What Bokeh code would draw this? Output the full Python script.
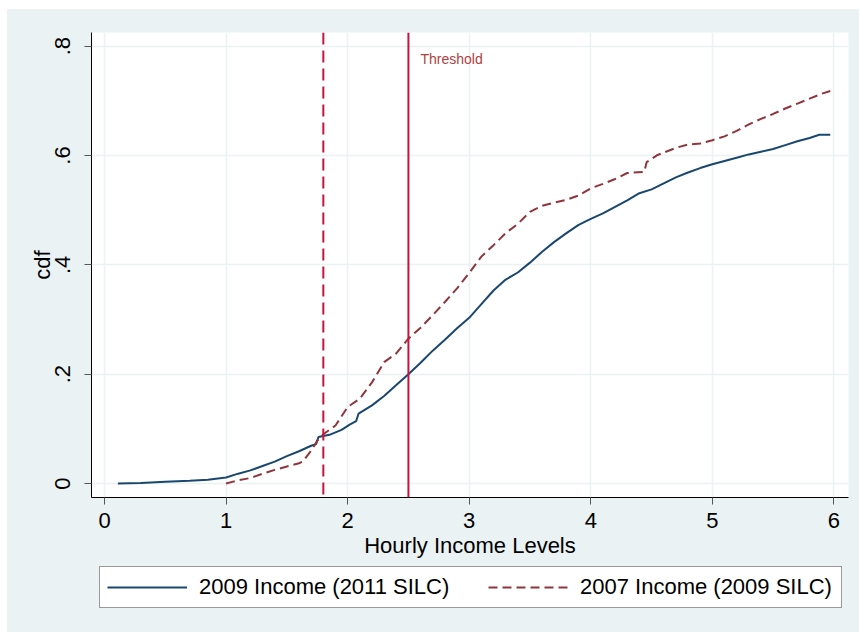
from bokeh.plotting import figure
from bokeh.layouts import column
from bokeh.models import (Range1d, FixedTicker, Span, Label, Legend, LegendItem)
from bokeh.embed import file_html
from bokeh.resources import INLINE

# ---- data ----
blue_x = [0.11, 0.3, 0.5, 0.7, 0.85, 1.0, 1.1, 1.2, 1.3, 1.4, 1.5, 1.6, 1.7, 1.74, 1.76,
          1.85, 1.95, 2.02, 2.07, 2.09, 2.2, 2.3, 2.4, 2.5, 2.6, 2.7, 2.8, 2.9, 3.0, 3.1,
          3.2, 3.3, 3.4, 3.5, 3.6, 3.7, 3.8, 3.9, 4.0, 4.1, 4.2, 4.3, 4.4, 4.5, 4.6, 4.7,
          4.8, 4.9, 5.0, 5.1, 5.2, 5.3, 5.4, 5.5, 5.6, 5.7, 5.8, 5.88, 5.97]
blue_y = [0.0, 0.001, 0.003, 0.005, 0.007, 0.011, 0.018, 0.024, 0.032, 0.040, 0.050, 0.059,
          0.069, 0.072, 0.085, 0.089, 0.098, 0.108, 0.114, 0.128, 0.143, 0.160, 0.180, 0.200,
          0.221, 0.243, 0.263, 0.284, 0.303, 0.328, 0.353, 0.373, 0.386, 0.404, 0.424, 0.442,
          0.458, 0.473, 0.484, 0.494, 0.506, 0.518, 0.531, 0.538, 0.549, 0.560, 0.569, 0.577,
          0.584, 0.590, 0.596, 0.602, 0.607, 0.612, 0.619, 0.626, 0.632, 0.638, 0.638]

red_x = [1.0, 1.05, 1.1, 1.2, 1.3, 1.4, 1.5, 1.6, 1.63, 1.7, 1.75, 1.8, 1.9, 2.0, 2.1, 2.2,
         2.3, 2.4, 2.5, 2.6, 2.7, 2.8, 2.9, 3.0, 3.1, 3.2, 3.3, 3.4, 3.5, 3.6, 3.7, 3.8, 3.9,
         4.0, 4.1, 4.2, 4.3, 4.44, 4.46, 4.55, 4.7, 4.8, 4.9, 5.0, 5.1, 5.2, 5.3, 5.4, 5.5,
         5.6, 5.7, 5.8, 5.9, 5.97]
red_y = [0.0, 0.003, 0.006, 0.010, 0.018, 0.025, 0.031, 0.037, 0.040, 0.060, 0.078, 0.090,
         0.106, 0.140, 0.155, 0.185, 0.222, 0.238, 0.265, 0.285, 0.308, 0.332, 0.357, 0.385,
         0.415, 0.436, 0.458, 0.475, 0.497, 0.508, 0.514, 0.519, 0.527, 0.540, 0.548, 0.557,
         0.568, 0.570, 0.588, 0.601, 0.614, 0.620, 0.622, 0.628, 0.635, 0.645, 0.657, 0.667,
         0.676, 0.686, 0.695, 0.704, 0.713, 0.718]

series_names = ["2009 Income (2011 SILC)", "2007 Income (2009 SILC)"]
x_ticks = [0, 1, 2, 3, 4, 5, 6]
y_ticks = [0, 0.2, 0.4, 0.6, 0.8]
y_tick_labels = ["0", ".2", ".4", ".6", ".8"]
cutoff_dashed = 1.8
threshold = 2.5
threshold_text = "Threshold"
x_title = "Hourly Income Levels"
y_title = "cdf"

# ---- styles ----
BG = "#EAF2F3"
BLUE = "#1A476F"
MAROON = "#90353B"
CRIMSON = "#C8143C"
FONT = "Liberation Sans"
RED_DASH = "9 5"

p = figure(width=852, height=556, output_backend="svg", toolbar_location=None,
           x_range=Range1d(-0.107, 6.12), y_range=Range1d(-0.0256, 0.825),
           min_border_left=84, min_border_right=11, min_border_top=23,
           min_border_bottom=68)
p.border_fill_color = BG
p.background_fill_color = "white"
p.outline_line_color = None

# grid
p.xgrid.ticker = FixedTicker(ticks=x_ticks)
p.ygrid.ticker = FixedTicker(ticks=y_ticks)
for g in (p.xgrid, p.ygrid):
    g.grid_line_color = BG
    g.grid_line_width = 1.5

# axes
p.xaxis.ticker = FixedTicker(ticks=x_ticks)
p.yaxis.ticker = FixedTicker(ticks=y_ticks)
p.yaxis.major_label_overrides = {t: l for t, l in zip(y_ticks, y_tick_labels)}
p.yaxis.major_label_orientation = "vertical"
p.xaxis.axis_label = x_title
p.yaxis.axis_label = y_title
for ax in (p.xaxis, p.yaxis):
    ax.axis_line_color = "#000000"
    ax.axis_line_width = 1
    ax.major_tick_line_color = "#555555"
    ax.major_tick_out = 7
    ax.major_tick_in = 0
    ax.minor_tick_line_color = None
    ax.major_label_text_font = FONT
    ax.major_label_text_font_size = "22px"
    ax.major_label_text_color = "#000000"
    ax.axis_label_text_font = FONT
    ax.axis_label_text_font_size = "22px"
    ax.axis_label_text_font_style = "normal"
    ax.axis_label_text_color = "#000000"
p.xaxis.major_label_standoff = 8
p.xaxis.axis_label_standoff = 2
p.yaxis.major_label_standoff = 14
p.yaxis.axis_label_standoff = -2

# curves
p.line(blue_x, blue_y, line_color=BLUE, line_width=2)
p.line(red_x, red_y, line_color=MAROON, line_width=2, line_dash=RED_DASH)

# vertical reference lines
p.add_layout(Span(location=cutoff_dashed, dimension="height", line_color=CRIMSON,
                  line_width=2, line_dash="12 6"))
p.add_layout(Span(location=threshold, dimension="height", line_color=CRIMSON,
                  line_width=2))
p.add_layout(Label(x=threshold, y=y_ticks[-1], x_offset=12, y_offset=-13,
                   text=threshold_text, text_font=FONT, text_font_size="14px",
                   text_color="#B04040", text_baseline="middle"))

# ---- legend strip (a second figure below the chart) ----
# same series drawn again, but outside this strip's visible y-range, so only the
# legend keys show
q = figure(width=852, height=67, output_backend="svg", toolbar_location=None,
           x_axis_location=None, y_axis_location=None, min_border=0,
           x_range=Range1d(-0.107, 6.12), y_range=Range1d(2, 3))
q.grid.visible = False
q.background_fill_color = BG
q.border_fill_color = BG
q.outline_line_color = None
k_blue = q.line(blue_x, blue_y, line_color=BLUE, line_width=2)
k_red = q.line(red_x, red_y, line_color=MAROON, line_width=2, line_dash=RED_DASH)

legend = Legend(items=[LegendItem(label=series_names[0], renderers=[k_blue]),
                       LegendItem(label=series_names[1], renderers=[k_red])],
                orientation="horizontal", location=(8, 24),
                label_text_font=FONT, label_text_font_size="22px",
                label_text_color="#000000",
                glyph_width=80, glyph_height=20, label_width=254, label_height=22,
                label_standoff=12, spacing=35, padding=7, margin=0,
                border_line_color="#333333", border_line_width=1,
                background_fill_color="white", background_fill_alpha=1)
q.add_layout(legend, "center")

layout = column(p, q, spacing=0, margin=(9, 0, 0, 7),
                styles={"background-color": BG})

open("out.html", "w").write(file_html(layout, INLINE))
